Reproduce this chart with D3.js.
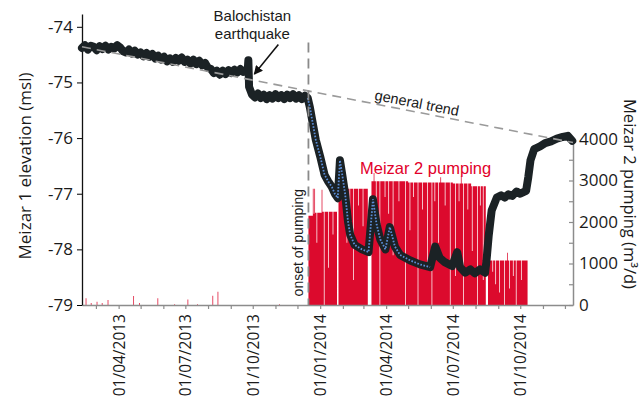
<!DOCTYPE html>
<html>
<head>
<meta charset="utf-8">
<script src="https://cdn.jsdelivr.net/npm/d3@7"></script>
<style>
  body { margin: 0; background: #fff; }
  .axis text { font-family: "Open Sans", sans-serif; fill: #1a1a1a; }
  .note { font-family: "Liberation Sans", Arial, sans-serif; fill: #1a1a1a; }
</style>
</head>
<body>
<svg width="641" height="412"></svg>
<script>
// Meizar 1 water level (msl)
var level = [
  ["2013-02-10",-74.38],["2013-02-14",-74.33],["2013-02-18",-74.41],["2013-02-22",-74.34],
  ["2013-02-26",-74.36],["2013-03-02",-74.42],["2013-03-06",-74.35],["2013-03-10",-74.40],
  ["2013-03-14",-74.34],["2013-03-18",-74.41],["2013-03-22",-74.36],["2013-03-26",-74.39],
  ["2013-03-30",-74.33],["2013-04-03",-74.37],["2013-04-07",-74.44],["2013-04-11",-74.46],
  ["2013-04-15",-74.41],["2013-04-19",-74.48],["2013-04-23",-74.43],["2013-04-27",-74.50],
  ["2013-05-01",-74.46],["2013-05-05",-74.53],["2013-05-09",-74.47],["2013-05-13",-74.54],
  ["2013-05-17",-74.49],["2013-05-21",-74.57],["2013-05-25",-74.52],["2013-05-29",-74.59],
  ["2013-06-02",-74.54],["2013-06-06",-74.62],["2013-06-10",-74.57],["2013-06-14",-74.63],
  ["2013-06-18",-74.56],["2013-06-22",-74.61],["2013-06-26",-74.55],["2013-06-30",-74.63],
  ["2013-07-04",-74.59],["2013-07-08",-74.66],["2013-07-12",-74.59],["2013-07-16",-74.67],
  ["2013-07-20",-74.61],["2013-07-24",-74.69],["2013-07-28",-74.65],["2013-08-01",-74.74],
  ["2013-08-05",-74.76],["2013-08-09",-74.83],["2013-08-13",-74.79],["2013-08-17",-74.86],
  ["2013-08-21",-74.79],["2013-08-25",-74.85],["2013-08-29",-74.78],["2013-09-02",-74.83],
  ["2013-09-06",-74.77],["2013-09-10",-74.82],["2013-09-14",-74.76],["2013-09-18",-74.81],
  ["2013-09-22",-74.77],["2013-09-24",-74.80],["2013-09-25",-74.60],["2013-09-26",-75.08],
  ["2013-09-30",-75.22],["2013-10-04",-75.27],["2013-10-08",-75.20],["2013-10-12",-75.28],
  ["2013-10-16",-75.22],["2013-10-20",-75.30],["2013-10-24",-75.23],["2013-10-28",-75.29],
  ["2013-11-01",-75.21],["2013-11-05",-75.28],["2013-11-09",-75.23],["2013-11-13",-75.30],
  ["2013-11-17",-75.22],["2013-11-21",-75.28],["2013-11-25",-75.21],["2013-11-29",-75.29],
  ["2013-12-03",-75.23],["2013-12-07",-75.30],["2013-12-11",-75.24],["2013-12-15",-75.28],
  ["2013-12-18",-75.45],["2013-12-21",-75.67],["2013-12-26",-76.03],["2014-01-01",-76.33],
  ["2014-01-07",-76.66],["2014-01-12",-76.78],["2014-01-17",-76.88],["2014-01-21",-77.00],
  ["2014-01-25",-77.08],["2014-01-28",-76.40],["2014-01-31",-76.65],["2014-02-04",-77.00],
  ["2014-02-08",-77.50],["2014-02-11",-77.74],["2014-02-17",-77.92],["2014-02-27",-78.00],
  ["2014-03-08",-78.05],["2014-03-14",-77.10],["2014-03-19",-77.55],["2014-03-24",-77.82],
  ["2014-03-31",-78.00],["2014-04-06",-77.60],["2014-04-13",-77.95],["2014-04-20",-78.10],
  ["2014-05-04",-78.20],["2014-05-17",-78.27],["2014-05-31",-78.32],["2014-06-07",-77.95],
  ["2014-06-13",-78.15],["2014-06-20",-78.23],["2014-06-30",-78.30],["2014-07-07",-78.05],
  ["2014-07-11",-78.32],["2014-07-18",-78.42],["2014-07-25",-78.36],["2014-07-31",-78.43],
  ["2014-08-07",-78.36],["2014-08-14",-78.42],["2014-08-16",-78.20],["2014-08-19",-77.75],
  ["2014-08-23",-77.30],["2014-08-30",-77.07],["2014-09-05",-77.03],["2014-09-10",-77.07],
  ["2014-09-15",-77.01],["2014-09-20",-77.04],["2014-09-26",-76.96],["2014-10-01",-77.00],
  ["2014-10-09",-76.95],["2014-10-12",-76.70],["2014-10-15",-76.40],["2014-10-20",-76.20],
  ["2014-10-28",-76.15],["2014-11-04",-76.09],["2014-11-12",-76.06],["2014-11-20",-76.01],
  ["2014-11-28",-75.98],["2014-12-05",-75.96],["2014-12-11",-76.05]
];

// Meizar 2 pumping (m3/d): isolated days, runs of days, and dips
var pumpEarly = [
  ["2013-02-15",160],["2013-02-22",50],["2013-03-02",80],["2013-03-09",50],["2013-03-17",120],
  ["2013-04-21",215],["2013-04-29",50],["2013-05-24",160],["2013-06-16",20],["2013-07-04",130],
  ["2013-07-17",20],["2013-08-07",225],["2013-08-14",320],["2013-11-06",20]
];
var pumpRuns = [
  ["2013-12-16","2013-12-21",2150],["2013-12-22","2013-12-22",2800],["2013-12-23","2013-12-23",2200],
  ["2013-12-24","2013-12-24",2800],["2013-12-25","2014-01-02",2220],["2014-01-03","2014-01-03",2780],
  ["2014-01-04","2014-01-23",2250],["2014-01-26","2014-01-29",3250],["2014-01-30","2014-02-02",3050],
  ["2014-02-03","2014-03-06",2800],["2014-03-12","2014-04-30",2980],["2014-05-01","2014-06-30",2950],
  ["2014-07-01","2014-07-25",2930],["2014-07-26","2014-08-14",2860],["2014-08-18","2014-10-10",1070]
];
var pumpDips = [
  ["2013-12-27",1500],["2014-01-06",0],["2014-01-12",900],["2014-01-18",1700],["2014-02-06",1500],
  ["2014-02-10",2300],["2014-02-15",600],["2014-02-22",2400],["2014-02-28",1900],["2014-03-15",3180],
  ["2014-03-18",2500],["2014-03-23",0],["2014-03-30",2600],["2014-04-04",2200],["2014-04-10",1200],
  ["2014-04-18",2500],["2014-04-27",0],["2014-05-03",1800],["2014-05-08",2600],["2014-05-14",0],
  ["2014-05-20",2300],["2014-05-27",900],["2014-06-02",0],["2014-06-06",2500],["2014-06-11",1500],
  ["2014-06-14",3080],["2014-06-20",2400],["2014-06-27",0],["2014-07-04",700],["2014-07-09",2500],
  ["2014-07-12",3100],["2014-07-15",0],["2014-07-21",2300],["2014-07-27",1300],["2014-08-03",0],
  ["2014-08-07",2400],["2014-08-11",600],["2014-08-24",800],["2014-08-28",500],["2014-09-02",300],
  ["2014-09-09",0],["2014-09-13",1260],["2014-09-16",400],["2014-09-21",700],["2014-09-25",0],
  ["2014-10-02",600]
];

var leftTicks = [-79, -78, -77, -76, -75, -74];
var rightTicks = [0, 500, 1000, 1500, 2000, 2500, 3000, 3500, 4000];
var trend = [["2013-02-10",-74.36],["2014-12-12",-76.08]];
var quakeDate = "2013-09-25";
var onsetDate = "2013-12-16";
var dottedRange = ["2013-12-15","2014-06-01"];

var parseDate = d3.timeParse("%Y-%m-%d");
var fmtDay = d3.timeFormat("%Y-%m-%d");

var svg = d3.select("svg");

var x = d3.scaleTime().domain([parseDate("2013-02-10"), parseDate("2014-12-12")]).range([82, 573]);
var yL = d3.scaleLinear().domain([-79, -73.77]).range([305, 14]);
var yR = d3.scaleLinear().domain([0, 4000]).range([305, 139]);

// daily pumping table
var pumpMap = new Map();
pumpEarly.forEach(function(d) { pumpMap.set(d[0], d[1]); });
pumpRuns.forEach(function(r) {
  d3.timeDay.range(parseDate(r[0]), d3.timeDay.offset(parseDate(r[1]), 1)).forEach(function(day) {
    pumpMap.set(fmtDay(day), r[2]);
  });
});
pumpDips.forEach(function(d) { pumpMap.set(d[0], d[1]); });
var pumpDaily = d3.timeDay.range(parseDate("2013-02-10"), parseDate("2014-10-12")).map(function(day) {
  return {date: day, v: pumpMap.get(fmtDay(day)) || 0};
});

var levelData = level.map(function(d) { return {date: parseDate(d[0]), v: d[1]}; });

// bars
var pumpArea = d3.area()
    .curve(d3.curveStepAfter)
    .x(function(d) { return x(d.date); })
    .y0(yR(0))
    .y1(function(d) { return yR(d.v); });

svg.append("path")
    .datum(pumpDaily)
    .attr("fill", "#dc0a2d")
    .attr("d", pumpArea);

// axes
var xAxis = d3.axisBottom(x)
    .ticks(d3.timeMonth.every(1))
    .tickSize(4)
    .tickSizeOuter(0)
    .tickFormat(function(d) { return d.getMonth() % 3 === 0 ? d3.timeFormat("%d/%m/%Y")(d) : ""; });

var gx = svg.append("g")
    .attr("class", "axis")
    .attr("transform", "translate(0," + yL(-79) + ")")
    .call(xAxis);
gx.select(".domain").attr("stroke", "#8c8c8c").attr("stroke-width", 1.5);
gx.selectAll(".tick line").attr("stroke", "#8c8c8c").attr("stroke-width", 1.2);
gx.selectAll("text")
    .attr("transform", "rotate(-90)")
    .attr("x", -9)
    .attr("y", 0)
    .attr("dy", "0.35em")
    .style("text-anchor", "end")
    .style("font-size", "15.5px");

var gl = svg.append("g")
    .attr("class", "axis")
    .attr("transform", "translate(" + x.range()[0] + ",0)")
    .call(d3.axisLeft(yL).tickValues(leftTicks).tickSize(5).tickSizeOuter(0).tickPadding(4)
      .tickFormat(function(d) { return String(d); }));
gl.select(".domain").attr("stroke", "#111").attr("stroke-width", 1.3);
gl.selectAll("text").style("font-size", "17px");

var gr = svg.append("g")
    .attr("class", "axis")
    .attr("transform", "translate(" + x.range()[1] + ",0)")
    .call(d3.axisRight(yR).tickValues(rightTicks).tickSizeInner(-4).tickSizeOuter(0).tickPadding(6)
      .tickFormat(function(d) { return d % 1000 === 0 ? d : ""; }));
gr.select(".domain").attr("stroke", "#8c8c8c").attr("stroke-width", 1.5);
gr.selectAll(".tick line").attr("stroke", "#8c8c8c").attr("stroke-width", 1.2);
gr.selectAll("text").style("font-size", "17px");

svg.append("text")
    .attr("transform", "translate(31,166) rotate(-90)")
    .style("text-anchor", "middle")
    .style("font-family", "'Open Sans', sans-serif")
    .style("font-size", "17px")
    .attr("fill", "#1a1a1a")
    .text("Meizar 1 elevation (msl)");

svg.append("text")
    .attr("transform", "translate(624,194) rotate(90)")
    .style("text-anchor", "middle")
    .style("font-family", "'Open Sans', sans-serif")
    .style("font-size", "16.5px")
    .attr("fill", "#1a1a1a")
    .text("Meizar 2 pumping (m³/d)");

// water level line
var line = d3.line()
    .x(function(d) { return x(d.date); })
    .y(function(d) { return yL(d.v); });

svg.append("path")
    .datum(levelData)
    .attr("fill", "none")
    .attr("stroke", "#1b2225")
    .attr("stroke-width", 8)
    .attr("stroke-linejoin", "round")
    .attr("stroke-linecap", "round")
    .attr("d", line);

var d0 = parseDate(dottedRange[0]), d1 = parseDate(dottedRange[1]);
svg.append("path")
    .datum(levelData.filter(function(d) { return d.date >= d0 && d.date <= d1; }))
    .attr("fill", "none")
    .attr("stroke", "#5b8ed8")
    .attr("stroke-width", 1.8)
    .attr("stroke-dasharray", "1.6,1.6")
    .attr("d", line);

// general trend
var trendData = trend.map(function(d) { return {date: parseDate(d[0]), v: d[1]}; });
svg.append("path")
    .datum(trendData)
    .attr("fill", "none")
    .attr("stroke", "#9a9a9a")
    .attr("stroke-width", 1.6)
    .attr("stroke-dasharray", "9,6")
    .attr("d", line);

var tx0 = x(trendData[0].date), ty0 = yL(trendData[0].v),
    tx1 = x(trendData[1].date), ty1 = yL(trendData[1].v);
var ang = Math.atan2(ty1 - ty0, tx1 - tx0) * 180 / Math.PI;
var labX = 374, labY = ty0 + (labX - tx0) * (ty1 - ty0) / (tx1 - tx0);
svg.append("text")
    .attr("class", "note")
    .attr("transform", "translate(" + labX + "," + (labY - 4) + ") rotate(" + ang + ")")
    .style("font-size", "14.5px")
    .text("general trend");

// onset of pumping
var xo = x(parseDate(onsetDate));
svg.append("line")
    .attr("x1", xo).attr("x2", xo)
    .attr("y1", yL(-74.28)).attr("y2", yL(-79))
    .attr("stroke", "#8a8a8a")
    .attr("stroke-width", 1.8)
    .attr("stroke-dasharray", "10,6");

svg.append("text")
    .attr("class", "note")
    .attr("transform", "translate(" + (xo - 5) + "," + yL(-77.88) + ") rotate(-90)")
    .style("text-anchor", "middle")
    .style("font-size", "14px")
    .text("onset of pumping");

// earthquake note
var xq = x(parseDate(quakeDate));
svg.append("defs").append("marker")
    .attr("id", "arrow")
    .attr("viewBox", "0 0 10 10")
    .attr("refX", 9).attr("refY", 5)
    .attr("markerWidth", 9).attr("markerHeight", 9)
    .attr("markerUnits", "userSpaceOnUse")
    .attr("orient", "auto")
    .append("path")
    .attr("d", "M0,0L10,5L0,10z")
    .attr("fill", "#111");

svg.append("line")
    .attr("x1", xq + 30).attr("y1", yL(-74.32))
    .attr("x2", xq + 6).attr("y2", yL(-74.85))
    .attr("stroke", "#111")
    .attr("stroke-width", 1.6)
    .attr("marker-end", "url(#arrow)");

var quakeText = svg.append("text")
    .attr("class", "note")
    .style("text-anchor", "middle")
    .style("font-size", "15px");
quakeText.append("tspan").attr("x", xq + 4).attr("y", 21).text("Balochistan");
quakeText.append("tspan").attr("x", xq + 4).attr("y", 39).text("earthquake");

// pumping label
svg.append("text")
    .attr("class", "note")
    .attr("x", 360)
    .attr("y", 173.5)
    .style("fill", "#e2002a")
    .style("font-size", "16.5px")
    .text("Meizar 2 pumping");
</script>
</body>
</html>
